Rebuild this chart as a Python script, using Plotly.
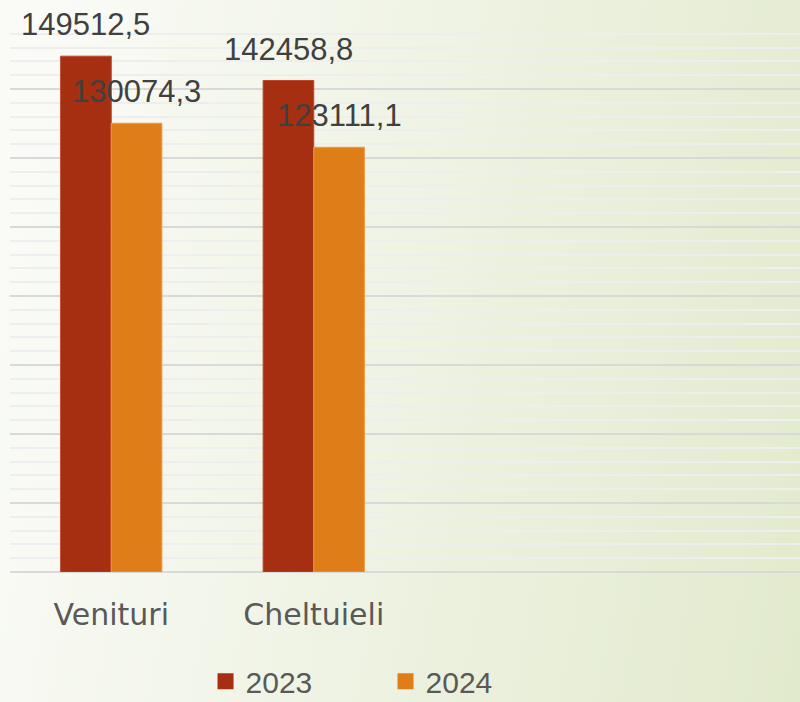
import base64
import plotly.graph_objects as go

categories = ["Venituri", "Cheltuieli"]
years = ["2023", "2024"]
values_2023 = [149512.5, 142458.8]
values_2024 = [130074.3, 123111.1]
colors = ["#A52F10", "#DF7D18"]
edge_colors = ["#B9482B", "#EE9A45"]

W, H = 800, 702
L, R, T, B = 10, 0, 20, 130

svg = f'''<svg xmlns="http://www.w3.org/2000/svg" width="{W}" height="{H}" viewBox="0 0 {W} {H}" preserveAspectRatio="none">
<defs><linearGradient id="g" gradientUnits="userSpaceOnUse" x1="43" y1="8" x2="900" y2="171">
<stop offset="0" stop-color="#fafbf7"/>
<stop offset="1" stop-color="#e2eacd"/>
</linearGradient></defs>
<rect width="{W}" height="{H}" fill="url(#g)"/></svg>'''
bg_uri = "data:image/svg+xml;base64," + base64.b64encode(svg.encode()).decode()

num_font = "Liberation Sans, Arial, sans-serif"
cat_font = "DejaVu Sans, sans-serif"
xpos = list(range(len(categories)))

bargap = 0.5
n_series = len(years)
bar_w = (1 - bargap) / n_series

fig = go.Figure()
annotations = []
for k, (yr, vals, col, ecol) in enumerate(zip(years, [values_2023, values_2024], colors, edge_colors)):
    fig.add_trace(go.Bar(
        x=xpos, y=vals, name=yr,
        marker=dict(color=col, line=dict(color=ecol, width=1)),
        showlegend=False,
        hoverinfo="skip",
    ))
    fig.add_trace(go.Scatter(
        x=[None], y=[None], mode="markers", name=yr,
        marker=dict(symbol="square", size=18, color=col),
        showlegend=True,
    ))
    offset = -(1 - bargap) / 2 + bar_w * (k + 0.5)
    for xi, v in zip(xpos, vals):
        annotations.append(dict(
            x=xi + offset, y=v, xref="x", yref="y",
            text=f"{v:.1f}".replace(".", ","),
            showarrow=False, xanchor="center", yanchor="bottom",
            yshift=12,
            font=dict(size=31, color="#404040", family=num_font),
        ))

plot_w = W - L - R
plot_h = H - T - B
slot_px = 202.5
x_end = -0.5 + plot_w / slot_px

fig.update_layout(
    width=W, height=H,
    margin=dict(l=L, r=R, t=T, b=B, pad=0, autoexpand=False),
    paper_bgcolor="#f3f6ea",
    plot_bgcolor="rgba(0,0,0,0)",
    barmode="group",
    bargap=bargap,
    bargroupgap=0,
    font=dict(family=num_font, color="#595959"),
    annotations=annotations,
    images=[dict(
        source=bg_uri, xref="paper", yref="paper",
        x=-L / plot_w, y=1 + T / plot_h,
        sizex=W / plot_w, sizey=H / plot_h,
        xanchor="left", yanchor="top",
        sizing="stretch", layer="below",
    )],
    xaxis=dict(
        range=[-0.5, x_end],
        tickmode="array", tickvals=xpos, ticktext=categories,
        tickfont=dict(size=30, color="#595959", family=cat_font),
        showgrid=False, zeroline=False, showline=False,
        ticks="", ticklabelstandoff=22,
    ),
    yaxis=dict(
        range=[0, 160000],
        dtick=20000,
        showticklabels=False,
        showgrid=True, gridcolor="#d9d9d9", gridwidth=2,
        minor=dict(dtick=4000, showgrid=True, gridcolor="#eeeeee", gridwidth=2),
        zeroline=True, zerolinecolor="#d9d9d9", zerolinewidth=2,
        showline=False,
    ),
    legend=dict(
        orientation="h", x=0.2475, xanchor="left", y=-0.151, yanchor="top",
        font=dict(size=30, color="#595959", family=num_font),
        bgcolor="rgba(0,0,0,0)",
        entrywidth=135, entrywidthmode="pixels",
        itemwidth=30,
    ),
)

fig.write_html(
    "out.html",
    config={"displayModeBar": False},
    post_script="document.body.style.margin='0';document.body.style.padding='0';",
)
